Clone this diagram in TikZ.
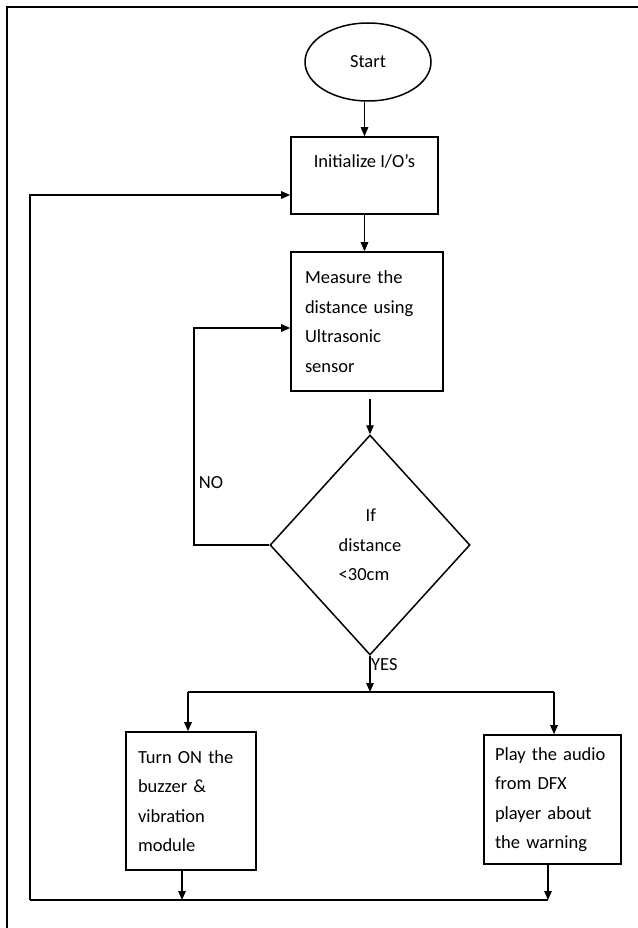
\documentclass[tikz,border=0pt]{standalone}
\usepackage{fontspec}
\setmainfont{Carlito}
\usetikzlibrary{shapes.geometric,arrows.meta,calc}
\begin{document}
\begin{tikzpicture}[x=1pt,y=-1pt,
  font=\fontsize{18.5}{29.5}\selectfont,
  box/.style={draw, line width=1.6pt, rectangle, inner ysep=0pt},
  arr/.style={line width=1.3pt, -{Triangle[length=9pt,width=7.5pt]}},
  ln/.style={line width=1.3pt}]
\useasboundingbox (0,0) rectangle (637,928);
\fill[white] (0,0) rectangle (637,928);
\draw[line width=2.4pt] (645,7) -- (7,7) -- (7,940);
\node[draw, ellipse, line width=1.5pt, minimum width=126pt, minimum height=78pt, inner sep=0pt] (start) at (368,62) {Start};
\node[box, minimum width=147pt, minimum height=77pt, align=center] (init) at (364.5,175.5) {Initialize I/O’s\\ \mbox{}};
\node[box, text width=124pt, inner xsep=14pt, minimum height=139pt, align=left] (meas) at (367,321.5) {Measure the\\distance using\\Ultrasonic\\sensor};
\node[draw, diamond, line width=1.5pt, minimum width=200pt, minimum height=220pt, inner sep=0pt, align=left] (dec) at (370,545) {\hspace*{27pt}If\\distance\\<30cm};
\node[box, text width=106pt, inner xsep=12pt, minimum height=138pt, align=left] (buzz) at (191,801) {Turn ON the\\buzzer \&\\vibration\\module};
\node[box, text width=115pt, inner xsep=11pt, minimum height=129pt, align=left] (play) at (552.5,799.5) {Play the audio\\from DFX\\player about\\the warning};
% connectors
\draw[arr] (init.north |- start.south) -- (init.north);
\draw[arr] (init.south) -- (init.south |- meas.north);
\draw[arr] ([yshift=-7pt]meas.south -| dec.north) -- (dec.north);
\coordinate (nol) at (194,328);
\draw[arr] (dec.west) -| (nol) -- (nol -| meas.west);
\node (no) at (211,483) {NO};
\coordinate (yj) at (368,692);
\draw[arr] (dec.south) -- (dec.south |- yj);
\node[anchor=west, inner sep=1pt] (yes) at (370,665) {YES};
\coordinate (bl) at (188,692);
\coordinate (br) at (554,692);
\draw[ln] (bl) -- (br);
\draw[arr] (bl) -- (bl |- buzz.north);
\draw[arr] (br) -- (br |- play.north);
\coordinate (fl) at (30,900);
\coordinate (bx) at (182,900);
\coordinate (px) at (548,900);
\coordinate (il) at (30,195);
\draw[arr] (buzz.south -| bx) -- (bx);
\draw[arr] (play.south -| px) -- (px);
\draw[ln] (px) -- (fl);
\draw[arr] (fl) -- (il) -- (il -| init.west);
\end{tikzpicture}
\end{document}
